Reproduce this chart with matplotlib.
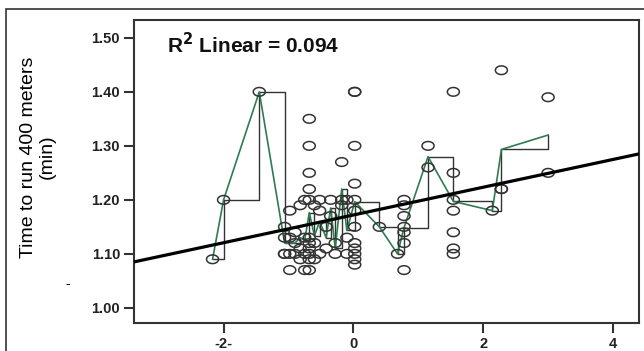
import matplotlib.pyplot as plt
import numpy as np
from matplotlib.path import Path
from matplotlib.patches import Rectangle

plt.rcParams['font.family'] = ['Liberation Sans', 'DejaVu Sans']

# scatter data, grouped by x value (x: standardized score, y: minutes)
groups = {
    -2.17: [1.09],
    -2.00: [1.20],
    -1.45: [1.40],
    -1.06: [1.15, 1.10, 1.10, 1.13],
    -0.98: [1.18, 1.10, 1.13, 1.07],
    -0.90: [1.12, 1.10, 1.14],
    -0.82: [1.19, 1.09, 1.11],
    -0.75: [1.10, 1.07, 1.13, 1.20],
    -0.68: [1.35, 1.30, 1.25, 1.22, 1.20, 1.13, 1.11, 1.10, 1.09, 1.07, 1.12],
    -0.60: [1.19, 1.09, 1.12],
    -0.52: [1.18, 1.20, 1.10],
    -0.42: [1.15, 1.11],
    -0.35: [1.20, 1.17],
    -0.28: [1.12, 1.10],
    -0.18: [1.20, 1.27, 1.19],
    -0.10: [1.20, 1.10, 1.13],
    0.02: [1.40, 1.40, 1.30, 1.23, 1.20, 1.18, 1.15, 1.12, 1.11, 1.10, 1.09, 1.08],
    0.40: [1.15],
    0.68: [1.10],
    0.78: [1.20, 1.19, 1.17, 1.15, 1.14, 1.12, 1.07],
    1.15: [1.30, 1.26],
    1.54: [1.40, 1.25, 1.20, 1.18, 1.14, 1.11, 1.10],
    2.14: [1.18],
    2.28: [1.44, 1.22, 1.22],
    3.00: [1.39, 1.25],
}

# linear fit
fit_intercept = 1.172
fit_slope = 0.0257
r2_text = "R$^{\\mathbf{2}}$ Linear = 0.094"

xticks = [-2, 0, 2, 4]
xticklabels = ["-2-", "0", "2", "4"]
yticks = [1.00, 1.10, 1.20, 1.30, 1.40, 1.50]

xs = []
ys = []
for k, v in groups.items():
    for y in v:
        xs.append(k)
        ys.append(y)
gx = np.array(sorted(groups.keys()))
gmean = np.array([np.mean(groups[k]) for k in gx])

fig = plt.figure(figsize=(6.44, 3.51), dpi=100)
ax = fig.add_axes([134 / 644, 1 - 323 / 351, 505 / 644, 303 / 351])

# outer frame
fig.patches.append(Rectangle((6 / 644, -0.05), 1.1, 1 - 9 / 351 + 0.05, transform=fig.transFigure,
                             fill=False, edgecolor='#333333', linewidth=1.2))

t = np.linspace(0, 2 * np.pi, 40)
ellipse = Path(np.column_stack([np.cos(t), 0.72 * np.sin(t)]), closed=True)

ax.plot(gx, gmean, drawstyle='steps-post', color='#333333', linewidth=1.0, zorder=2)
ax.plot(gx, gmean, color='#2e7d4f', linewidth=1.2, zorder=3)
ax.scatter(xs, ys, marker=ellipse, s=75, facecolors='none', edgecolors='#333333', linewidths=1.1, zorder=4)

xl = np.array([-3.38, 4.4])
ax.plot(xl, fit_intercept + fit_slope * xl, color='black', linewidth=2.3, zorder=5)

ax.set_xlim(-3.38, 4.4)
ax.set_ylim(0.972, 1.533)
ax.set_xticks(xticks)
ax.set_xticklabels(xticklabels)
ax.set_yticks(yticks)
ax.set_yticklabels([f"{v:.2f}" for v in yticks])
for lab in ax.get_xticklabels() + ax.get_yticklabels():
    lab.set_fontweight('bold')
    lab.set_fontsize(10.5)
    lab.set_color('#222222')
ax.tick_params(direction='out', length=7, width=1.5, color='#333333', pad=3)
for s in ax.spines.values():
    s.set_linewidth(1.5)
    s.set_color('#333333')

ax.text(0.065, 0.96, r2_text, transform=ax.transAxes, fontsize=15, fontweight='bold',
        ha='left', va='top', color='#111111')

fig.text(38 / 644, 1 - 157 / 351, "Time to run 400 meters\n(min)", rotation=90,
         ha='center', va='center', fontsize=14, multialignment='center', linespacing=1.1)
fig.text(68 / 644, 1 - 284 / 351, "-", ha='center', va='center', fontsize=10)

fig.savefig("out.png", dpi=100)
